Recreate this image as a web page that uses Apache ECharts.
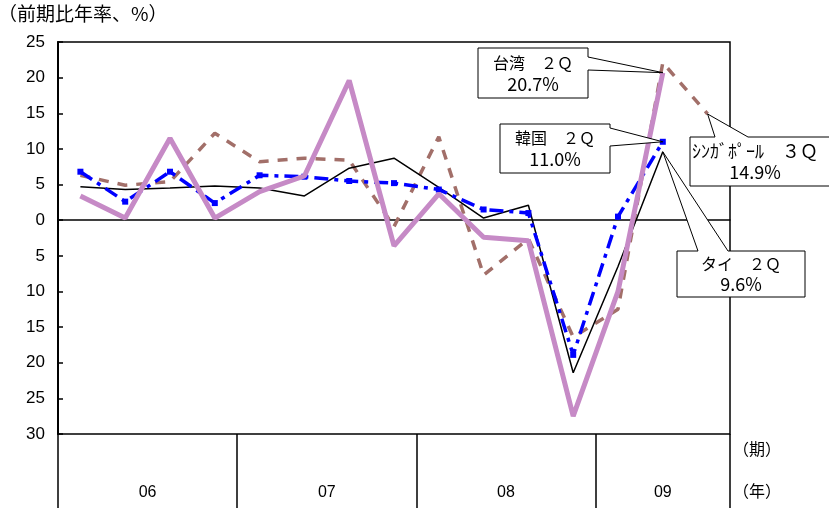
<!DOCTYPE html>
<html>
<head>
<meta charset="utf-8">
<script src="https://cdn.jsdelivr.net/npm/echarts@6/dist/echarts.min.js"></script>
<style>
  html, body { margin: 0; padding: 0; background: #fff; }
  #chart { width: 829px; height: 508px; }
</style>
</head>
<body>
<div id="chart"></div>
<script>
// 四半期（2006年1Q〜2009年3Q）
const quarters = ['06Q1','06Q2','06Q3','06Q4','07Q1','07Q2','07Q3','07Q4',
                  '08Q1','08Q2','08Q3','08Q4','09Q1','09Q2','09Q3'];
// 年の区切りと各年の四半期数
const yearLabels = ['06', '07', '08', '09'];
const quartersPerYear = [4, 4, 4, 3];

// 実質GDP成長率（前期比年率、%）
const thai      = [4.7, 4.3, 4.5, 4.8, 4.5, 3.4, 7.3, 8.7, 4.6, 0.3, 2.1, -21.4, -6.5, 9.6, null];
const korea     = [6.8, 2.6, 6.8, 2.4, 6.3, 6.1, 5.5, 5.2, 4.3, 1.5, 1.0, -18.9, 0.5, 11.0, null];
const taiwan    = [3.4, 0.3, 11.5, 0.3, 4.0, 6.2, 19.6, -3.6, 3.7, -2.4, -2.9, -27.5, -10.0, 20.7, null];
const singapore = [6.3, 4.9, 5.4, 12.2, 8.2, 8.7, 8.4, -0.9, 11.7, -7.7, -2.6, -16.4, -12.5, 22.1, 14.9];

const yTicks = { min: -30, max: 25, step: 5 };

const FONT_NUM = 'Liberation Sans';
const FONT_JP = 'Noto Sans CJK JP';

// 年の帯：半四半期単位のスロットで区切り線と年ラベルの位置を決める
const halfSlots = [];
const dividerIdx = new Set([0]);
const yearLabelIdx = {};
{
  let pos = 0;
  for (let i = 0; i < 2 * quarters.length + 1; i++) halfSlots.push('');
  quartersPerYear.forEach((n, k) => {
    const mid = pos + n;          // 年の中央（半四半期単位）
    halfSlots[mid] = yearLabels[k];
    yearLabelIdx[mid] = true;
    pos += 2 * n;
    dividerIdx.add(pos);
  });
}

const chart = echarts.init(document.getElementById('chart'), null, { renderer: 'canvas' });

const grid = { left: 58, right: 99, top: 42, bottom: 74 };

chart.setOption({
  animation: false,
  backgroundColor: '#fff',
  grid: Object.assign({ show: true, borderColor: '#000', borderWidth: 1.5, backgroundColor: 'transparent' }, grid),
  xAxis: [
    {
      type: 'category',
      data: quarters,
      boundaryGap: true,
      axisLine: { onZero: true, lineStyle: { color: '#000', width: 1.5 } },
      axisTick: { show: false },
      axisLabel: { show: false },
      splitLine: { show: false }
    },
    {
      type: 'category',
      data: halfSlots,
      boundaryGap: false,
      position: 'bottom',
      axisLine: { show: false, onZero: false },
      axisTick: {
        show: true,
        length: 74,
        inside: false,
        interval: (i) => dividerIdx.has(i),
        lineStyle: { color: '#000', width: 1.5 }
      },
      axisLabel: {
        show: true,
        interval: (i) => !!yearLabelIdx[i],
        margin: 51,
        color: '#000',
        fontFamily: FONT_NUM,
        fontSize: 16
      },
      splitLine: { show: false }
    }
  ],
  yAxis: {
    type: 'value',
    min: yTicks.min,
    max: yTicks.max,
    interval: yTicks.step,
    axisLine: { show: true, lineStyle: { color: '#000', width: 2 } },
    axisTick: { show: true, inside: true, length: 5, lineStyle: { color: '#000', width: 1.5 } },
    axisLabel: {
      color: '#000',
      fontFamily: FONT_NUM,
      fontSize: 17,
      margin: 13,
      formatter: (v) => String(Math.abs(v))
    },
    splitLine: { show: false }
  },
  series: [
    {
      name: 'シンガポール',
      type: 'line',
      data: singapore,
      symbol: 'none',
      lineStyle: { color: '#A26F69', width: 3.5, type: [10, 9], cap: 'butt' },
      z: 2
    },
    {
      name: 'タイ',
      type: 'line',
      data: thai,
      symbol: 'none',
      lineStyle: { color: '#000', width: 1.5 },
      z: 3
    },
    {
      name: '韓国',
      type: 'line',
      data: korea,
      symbol: 'rect',
      symbolSize: 6,
      itemStyle: { color: '#0000FF' },
      lineStyle: { color: '#0000FF', width: 3.5, type: [14, 6, 4, 6], cap: 'butt' },
      z: 4
    },
    {
      name: '台湾',
      type: 'line',
      data: taiwan,
      symbol: 'none',
      lineStyle: { color: '#C68AC6', width: 5 },
      z: 5
    }
  ]
});

// 注記（吹き出し）：箱の位置は固定、吹き出しの先端は系列の値から求める
const callouts = [
  { series: 3, idx: 13, lines: ['台湾　２Ｑ', '20.7%'], box: [478, 48, 110, 50], edge: 'right', base: [57, 70] },
  { series: 2, idx: 13, lines: ['韓国　２Ｑ', '11.0%'], box: [500, 124, 110, 49], edge: 'right', base: [128, 146] },
  { series: 0, idx: 14, lines: ['ｼﾝｶﾞﾎﾟｰﾙ　３Ｑ', '14.9%'], box: [690, 137, 150, 49], edge: 'top', base: [715, 748] },
  { series: 1, idx: 13, lines: ['タイ　２Ｑ', '9.6%'], box: [677, 251, 128, 46], edge: 'top', base: [698, 728] }
];
const seriesData = [singapore, thai, korea, taiwan];

const graphics = [];
callouts.forEach((c) => {
  const tip = chart.convertToPixel({ seriesIndex: c.series }, [c.idx, seriesData[c.series][c.idx]]);
  const [x, y, w, h] = c.box;
  const x1 = x + w, y1 = y + h;
  let pts;
  if (c.edge === 'right') {
    pts = [[x, y], [x1, y], [x1, c.base[0]], tip, [x1, c.base[1]], [x1, y1], [x, y1]];
  } else {
    pts = [[x, y], [c.base[0], y], tip, [c.base[1], y], [x1, y], [x1, y1], [x, y1]];
  }
  graphics.push({
    type: 'polygon',
    shape: { points: pts },
    style: { fill: '#fff', stroke: '#000', lineWidth: 1 },
    z: 100
  });
  const cx = x + w / 2 - (c.edge === 'top' && c.series === 0 ? 10 : 0);
  const size1 = c.series === 0 ? 18 : 16;
  graphics.push({
    type: 'text',
    x: cx, y: y + h * 0.29,
    style: { text: c.lines[0], font: size1 + 'px "' + FONT_JP + '"', fill: '#000', align: 'center', verticalAlign: 'middle' },
    z: 101
  });
  graphics.push({
    type: 'text',
    x: cx, y: y + h * 0.72,
    style: { text: c.lines[1], font: '18px "' + FONT_JP + '"', fill: '#000', align: 'center', verticalAlign: 'middle' },
    z: 101
  });
});

// 軸の見出し
graphics.push({
  type: 'text', left: -2, top: 4,
  style: { text: '（前期比年率、%）', font: '19px "' + FONT_JP + '"', fill: '#000' }
});
graphics.push({
  type: 'text', left: 733, top: 441,
  style: { text: '（期）', font: '16px "' + FONT_JP + '"', fill: '#000' }
});
graphics.push({
  type: 'text', left: 733, top: 483,
  style: { text: '（年）', font: '16px "' + FONT_JP + '"', fill: '#000' }
});

chart.setOption({ graphic: graphics });
</script>
</body>
</html>
